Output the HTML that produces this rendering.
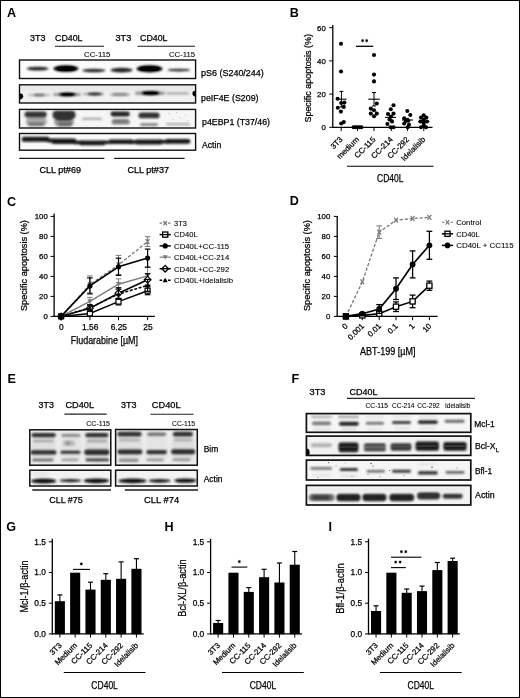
<!DOCTYPE html>
<html><head><meta charset="utf-8"><title>Figure</title>
<style>
html,body{margin:0;padding:0;background:#fff;}
body{width:520px;height:698px;overflow:hidden;}
svg{display:block;opacity:0.999;}
text{font-family:"Liberation Sans",sans-serif;stroke:#000;stroke-width:0.25px;}
</style></head><body>
<svg width="520" height="698" viewBox="0 0 520 698">
<defs>
<filter id="b3" x="-20%" y="-50%" width="140%" height="200%"><feGaussianBlur stdDeviation="0.35"/></filter>
<filter id="b5" x="-20%" y="-80%" width="140%" height="260%"><feGaussianBlur stdDeviation="0.8"/></filter>
<filter id="b8" x="-20%" y="-80%" width="140%" height="260%"><feGaussianBlur stdDeviation="0.9"/></filter>
<filter id="b12" x="-30%" y="-100%" width="160%" height="300%"><feGaussianBlur stdDeviation="1.4"/></filter>
</defs>
<rect x="0" y="0" width="520" height="698" fill="#fff"/>

<text x="6.90" y="17.10" font-size="12.6" font-weight="bold" style="stroke:none">A</text>
<text x="289.80" y="17.10" font-size="12.6" font-weight="bold" style="stroke:none">B</text>
<text x="7.00" y="205.50" font-size="12.6" font-weight="bold" style="stroke:none">C</text>
<text x="289.80" y="205.40" font-size="12.6" font-weight="bold" style="stroke:none">D</text>
<text x="7.40" y="383.00" font-size="12.6" font-weight="bold" style="stroke:none">E</text>
<text x="291.40" y="382.90" font-size="12.6" font-weight="bold" style="stroke:none">F</text>
<text x="6.20" y="531.00" font-size="12.6" font-weight="bold" style="stroke:none">G</text>
<text x="164.60" y="530.80" font-size="12.6" font-weight="bold" style="stroke:none">H</text>
<text x="328.40" y="530.90" font-size="12.6" font-weight="bold" style="stroke:none">I</text>
<g id="panelA">
<text x="30.00" y="41.00" font-size="8.8" textLength="15.50" lengthAdjust="spacingAndGlyphs">3T3</text>
<text x="115.50" y="41.00" font-size="8.8" textLength="15.80" lengthAdjust="spacingAndGlyphs">3T3</text>
<text x="55.00" y="41.00" font-size="8.8" textLength="27.50" lengthAdjust="spacingAndGlyphs">CD40L</text>
<text x="140.00" y="41.00" font-size="8.8" textLength="27.50" lengthAdjust="spacingAndGlyphs">CD40L</text>
<line x1="55.00" y1="46.30" x2="104.00" y2="46.30" stroke="#1a1a1a" stroke-width="1.1"/>
<line x1="137.50" y1="46.30" x2="195.00" y2="46.30" stroke="#1a1a1a" stroke-width="1.1"/>
<text x="84.00" y="57.30" font-size="7.4" textLength="26.50" lengthAdjust="spacingAndGlyphs" style="stroke-width:0.08px">CC-115</text>
<text x="169.00" y="57.30" font-size="7.4" textLength="26.00" lengthAdjust="spacingAndGlyphs" style="stroke-width:0.08px">CC-115</text>
<clipPath id="c1"><rect x="19.50" y="60.00" width="176.10" height="18.50"/></clipPath>
<rect x="19.50" y="60.00" width="176.10" height="18.50" fill="#fbfbfb" stroke="none" stroke-width="1"/>
<g clip-path="url(#c1)">
<ellipse cx="37.60" cy="68.60" rx="11.10" ry="1.95" fill="#222222" filter="url(#b5)"/>
<ellipse cx="65.95" cy="68.60" rx="12.55" ry="3.41" fill="#040404" filter="url(#b5)"/>
<rect x="57.00" y="66.40" width="18.00" height="4.40" rx="2.20" fill="#000" filter="url(#b3)"/>
<ellipse cx="93.85" cy="70.50" rx="11.55" ry="1.78" fill="#262626" filter="url(#b5)"/>
<ellipse cx="121.60" cy="70.10" rx="11.10" ry="2.30" fill="#202020" filter="url(#b5)"/>
<ellipse cx="149.50" cy="68.80" rx="13.00" ry="3.60" fill="#050505" filter="url(#b5)"/>
<rect x="140.00" y="66.60" width="19.00" height="4.40" rx="2.20" fill="#000" filter="url(#b3)"/>
<ellipse cx="178.85" cy="70.10" rx="11.55" ry="1.44" fill="#2d2d2d" filter="url(#b5)"/>
</g>
<rect x="19.50" y="60.00" width="176.10" height="18.50" fill="none" stroke="#111" stroke-width="1.4"/>
<clipPath id="c2"><rect x="19.50" y="84.80" width="176.10" height="18.20"/></clipPath>
<rect x="19.50" y="84.80" width="176.10" height="18.20" fill="#f1f1f1" stroke="none" stroke-width="1"/>
<g clip-path="url(#c2)">
<rect x="20.00" y="86.00" width="175.00" height="5.00" rx="2.50" fill="#e8e8e8" filter="url(#b12)"/>
<ellipse cx="19.35" cy="96.30" rx="3.85" ry="3.10" fill="#000" filter="url(#b3)"/>
<rect x="28.00" y="93.95" width="22.00" height="2.10" rx="1.05" fill="#afafaf" filter="url(#b5)"/>
<rect x="34.00" y="93.75" width="10.50" height="2.50" rx="1.25" fill="#757575" filter="url(#b5)"/>
<rect x="53.00" y="93.08" width="28.00" height="3.04" rx="1.52" fill="#979797" filter="url(#b8)"/>
<ellipse cx="67.40" cy="94.45" rx="8.40" ry="1.91" fill="#000000" filter="url(#b5)"/>
<rect x="62.00" y="93.70" width="11.00" height="1.50" rx="0.75" fill="#000" filter="url(#b3)"/>
<rect x="83.00" y="92.65" width="21.00" height="2.70" rx="1.35" fill="#aaaaaa" filter="url(#b8)"/>
<ellipse cx="94.65" cy="94.00" rx="7.15" ry="1.44" fill="#2a2a2a" filter="url(#b5)"/>
<rect x="110.00" y="93.25" width="20.00" height="2.40" rx="1.20" fill="#aeaeae" filter="url(#b5)"/>
<rect x="113.00" y="93.35" width="14.00" height="2.20" rx="1.10" fill="#848484" filter="url(#b5)"/>
<rect x="135.00" y="91.51" width="30.00" height="3.39" rx="1.69" fill="#999999" filter="url(#b8)"/>
<ellipse cx="150.55" cy="93.10" rx="9.25" ry="2.12" fill="#000000" filter="url(#b5)"/>
<rect x="144.00" y="92.20" width="13.00" height="1.80" rx="0.90" fill="#000" filter="url(#b3)"/>
<rect x="166.00" y="92.25" width="23.00" height="2.30" rx="1.15" fill="#a6a6a6" filter="url(#b8)"/>
<ellipse cx="195.45" cy="93.60" rx="3.05" ry="2.80" fill="#000" filter="url(#b3)"/>
</g>
<rect x="19.50" y="84.80" width="176.10" height="18.20" fill="none" stroke="#111" stroke-width="1.4"/>
<clipPath id="c3"><rect x="19.50" y="109.40" width="176.10" height="18.60"/></clipPath>
<rect x="19.50" y="109.40" width="176.10" height="18.60" fill="#f6f6f6" stroke="none" stroke-width="1"/>
<g clip-path="url(#c3)">
<rect x="26.00" y="117.00" width="21.00" height="9.00" rx="4.50" fill="#aaa" filter="url(#b8)"/>
<rect x="24.60" y="111.60" width="22.10" height="5.80" rx="2.90" fill="#323232" filter="url(#b5)"/>
<rect x="28.00" y="122.22" width="16.00" height="3.56" rx="1.78" fill="#777777" filter="url(#b8)"/>
<rect x="54.00" y="117.00" width="20.00" height="9.50" rx="4.75" fill="#999" filter="url(#b8)"/>
<rect x="52.50" y="110.80" width="23.10" height="8.20" rx="4.10" fill="#333" filter="url(#b5)"/>
<rect x="56.00" y="113.00" width="16.00" height="7.50" rx="3.75" fill="#333" filter="url(#b5)"/>
<rect x="58.00" y="122.22" width="14.00" height="3.56" rx="1.78" fill="#686868" filter="url(#b8)"/>
<rect x="82.00" y="117.65" width="20.00" height="2.10" rx="1.05" fill="#9e9e9e" filter="url(#b5)"/>
<rect x="110.60" y="111.53" width="19.20" height="4.94" rx="2.47" fill="#202020" filter="url(#b5)"/>
<rect x="111.50" y="119.45" width="18.50" height="5.11" rx="2.55" fill="#8f8f8f" filter="url(#b8)"/>
<rect x="113.00" y="119.86" width="15.00" height="2.87" rx="1.44" fill="#767676" filter="url(#b5)"/>
<rect x="138.50" y="112.50" width="21.10" height="5.80" rx="2.90" fill="#323232" filter="url(#b5)"/>
<rect x="140.00" y="123.25" width="18.00" height="2.70" rx="1.35" fill="#828282" filter="url(#b5)"/>
<rect x="166.00" y="123.05" width="24.00" height="2.10" rx="1.05" fill="#adadad" filter="url(#b5)"/>
</g>
<rect x="19.50" y="109.40" width="176.10" height="18.60" fill="none" stroke="#111" stroke-width="1.4"/>
<circle cx="169.00" cy="113.20" r="0.5" fill="#aaa" stroke="none" stroke-width="1"/>
<circle cx="176.50" cy="112.60" r="0.5" fill="#aaa" stroke="none" stroke-width="1"/>
<circle cx="180.00" cy="117.60" r="0.5" fill="#aaa" stroke="none" stroke-width="1"/>
<circle cx="185.50" cy="115.00" r="0.5" fill="#aaa" stroke="none" stroke-width="1"/>
<circle cx="173.00" cy="119.40" r="0.5" fill="#aaa" stroke="none" stroke-width="1"/>
<circle cx="188.00" cy="120.60" r="0.5" fill="#aaa" stroke="none" stroke-width="1"/>
<clipPath id="c4"><rect x="19.50" y="133.50" width="176.10" height="16.70"/></clipPath>
<rect x="19.50" y="133.50" width="176.10" height="16.70" fill="#fafafa" stroke="none" stroke-width="1"/>
<g clip-path="url(#c4)">
<rect x="21.70" y="136.65" width="27.90" height="5.11" rx="2.55" fill="#161616" filter="url(#b5)"/>
<rect x="51.50" y="138.47" width="25.00" height="5.45" rx="2.73" fill="#171717" filter="url(#b5)"/>
<rect x="47.00" y="138.72" width="7.00" height="3.56" rx="1.78" fill="#111111" filter="url(#b5)"/>
<rect x="79.40" y="140.43" width="26.00" height="4.94" rx="2.47" fill="#151515" filter="url(#b5)"/>
<rect x="74.00" y="140.72" width="8.00" height="3.56" rx="1.78" fill="#151515" filter="url(#b5)"/>
<rect x="108.30" y="139.40" width="24.40" height="4.59" rx="2.30" fill="#141414" filter="url(#b5)"/>
<rect x="103.00" y="140.69" width="7.00" height="3.22" rx="1.61" fill="#141414" filter="url(#b5)"/>
<rect x="135.60" y="139.62" width="26.90" height="4.76" rx="2.38" fill="#151515" filter="url(#b5)"/>
<rect x="130.00" y="140.31" width="8.00" height="3.39" rx="1.69" fill="#151515" filter="url(#b5)"/>
<rect x="165.40" y="139.02" width="25.00" height="4.76" rx="2.38" fill="#151515" filter="url(#b5)"/>
<rect x="160.00" y="140.11" width="8.00" height="3.39" rx="1.69" fill="#151515" filter="url(#b5)"/>
</g>
<rect x="19.50" y="133.50" width="176.10" height="16.70" fill="none" stroke="#111" stroke-width="1.4"/>
<text x="201.00" y="75.80" font-size="8.8" textLength="62.80" lengthAdjust="spacingAndGlyphs">pS6 (S240/244)</text>
<text x="201.00" y="100.80" font-size="8.8" textLength="57.50" lengthAdjust="spacingAndGlyphs">peIF4E (S209)</text>
<text x="202.00" y="124.70" font-size="8.8" textLength="68.00" lengthAdjust="spacingAndGlyphs">p4EBP1 (T37/46)</text>
<text x="202.00" y="147.80" font-size="8.8" textLength="19.20" lengthAdjust="spacingAndGlyphs">Actin</text>
<line x1="19.20" y1="158.40" x2="104.30" y2="158.40" stroke="#1a1a1a" stroke-width="1.2"/>
<line x1="114.20" y1="158.40" x2="184.60" y2="158.40" stroke="#1a1a1a" stroke-width="1.2"/>
<text x="39.50" y="172.50" font-size="9" textLength="41.50" lengthAdjust="spacingAndGlyphs">CLL pt#69</text>
<text x="127.50" y="172.50" font-size="9" textLength="41.50" lengthAdjust="spacingAndGlyphs">CLL pt#37</text>
</g>
<g id="panelB">
<line x1="332.80" y1="25.00" x2="332.80" y2="127.90" stroke="#000" stroke-width="1.3"/>
<line x1="332.20" y1="127.30" x2="432.50" y2="127.30" stroke="#000" stroke-width="1.3"/>
<line x1="329.20" y1="127.30" x2="332.80" y2="127.30" stroke="#000" stroke-width="1.0"/>
<text x="325.80" y="130.10" font-size="7.8" text-anchor="end">0</text>
<line x1="329.20" y1="94.10" x2="332.80" y2="94.10" stroke="#000" stroke-width="1.0"/>
<text x="325.80" y="96.90" font-size="7.8" text-anchor="end">20</text>
<line x1="329.20" y1="60.90" x2="332.80" y2="60.90" stroke="#000" stroke-width="1.0"/>
<text x="325.80" y="63.70" font-size="7.8" text-anchor="end">40</text>
<line x1="329.20" y1="27.70" x2="332.80" y2="27.70" stroke="#000" stroke-width="1.0"/>
<text x="325.80" y="30.50" font-size="7.8" text-anchor="end">60</text>
<text x="310.90" y="78.30" font-size="8.6" text-anchor="middle" textLength="88.50" lengthAdjust="spacingAndGlyphs" transform="rotate(-90 310.90 78.30)">Specific apoptosis (%)</text>
<line x1="341.20" y1="127.30" x2="341.20" y2="131.10" stroke="#000" stroke-width="1.0"/>
<text x="343.20" y="140.00" font-size="7.8" text-anchor="end" transform="rotate(-45 343.20 140.00)">3T3</text>
<line x1="357.50" y1="127.30" x2="357.50" y2="131.10" stroke="#000" stroke-width="1.0"/>
<text x="359.50" y="140.00" font-size="7.8" text-anchor="end" transform="rotate(-45 359.50 140.00)">medium</text>
<line x1="374.00" y1="127.30" x2="374.00" y2="131.10" stroke="#000" stroke-width="1.0"/>
<text x="376.00" y="140.00" font-size="7.8" text-anchor="end" transform="rotate(-45 376.00 140.00)">CC-115</text>
<line x1="391.30" y1="127.30" x2="391.30" y2="131.10" stroke="#000" stroke-width="1.0"/>
<text x="393.30" y="140.00" font-size="7.8" text-anchor="end" transform="rotate(-45 393.30 140.00)">CC-214</text>
<line x1="407.60" y1="127.30" x2="407.60" y2="131.10" stroke="#000" stroke-width="1.0"/>
<text x="409.60" y="140.00" font-size="7.8" text-anchor="end" transform="rotate(-45 409.60 140.00)">CC-292</text>
<line x1="423.80" y1="127.30" x2="423.80" y2="131.10" stroke="#000" stroke-width="1.0"/>
<text x="425.80" y="140.00" font-size="7.8" text-anchor="end" transform="rotate(-45 425.80 140.00)">Idelalisib</text>
<circle cx="341.00" cy="43.80" r="2.05" fill="#000" stroke="none" stroke-width="1"/>
<circle cx="341.00" cy="71.50" r="2.05" fill="#000" stroke="none" stroke-width="1"/>
<circle cx="337.60" cy="98.80" r="2.05" fill="#000" stroke="none" stroke-width="1"/>
<circle cx="341.20" cy="103.00" r="2.05" fill="#000" stroke="none" stroke-width="1"/>
<circle cx="344.40" cy="102.60" r="2.05" fill="#000" stroke="none" stroke-width="1"/>
<circle cx="343.80" cy="106.90" r="2.05" fill="#000" stroke="none" stroke-width="1"/>
<circle cx="337.80" cy="107.70" r="2.05" fill="#000" stroke="none" stroke-width="1"/>
<circle cx="340.90" cy="111.60" r="2.05" fill="#000" stroke="none" stroke-width="1"/>
<circle cx="343.80" cy="122.10" r="2.05" fill="#000" stroke="none" stroke-width="1"/>
<circle cx="341.20" cy="123.50" r="2.05" fill="#000" stroke="none" stroke-width="1"/>
<circle cx="353.60" cy="127.30" r="2.05" fill="#000" stroke="none" stroke-width="1"/>
<circle cx="355.60" cy="127.30" r="2.05" fill="#000" stroke="none" stroke-width="1"/>
<circle cx="357.60" cy="127.30" r="2.05" fill="#000" stroke="none" stroke-width="1"/>
<circle cx="359.60" cy="127.30" r="2.05" fill="#000" stroke="none" stroke-width="1"/>
<circle cx="361.40" cy="127.30" r="2.05" fill="#000" stroke="none" stroke-width="1"/>
<circle cx="374.00" cy="55.00" r="2.05" fill="#000" stroke="none" stroke-width="1"/>
<circle cx="374.00" cy="74.60" r="2.05" fill="#000" stroke="none" stroke-width="1"/>
<circle cx="374.00" cy="81.40" r="2.05" fill="#000" stroke="none" stroke-width="1"/>
<circle cx="376.80" cy="103.50" r="2.05" fill="#000" stroke="none" stroke-width="1"/>
<circle cx="370.80" cy="108.60" r="2.05" fill="#000" stroke="none" stroke-width="1"/>
<circle cx="374.00" cy="110.30" r="2.05" fill="#000" stroke="none" stroke-width="1"/>
<circle cx="376.80" cy="113.60" r="2.05" fill="#000" stroke="none" stroke-width="1"/>
<circle cx="370.80" cy="113.60" r="2.05" fill="#000" stroke="none" stroke-width="1"/>
<circle cx="374.00" cy="116.20" r="2.05" fill="#000" stroke="none" stroke-width="1"/>
<circle cx="393.50" cy="105.30" r="2.05" fill="#000" stroke="none" stroke-width="1"/>
<circle cx="390.80" cy="109.30" r="2.05" fill="#000" stroke="none" stroke-width="1"/>
<circle cx="388.00" cy="114.00" r="2.05" fill="#000" stroke="none" stroke-width="1"/>
<circle cx="393.50" cy="113.60" r="2.05" fill="#000" stroke="none" stroke-width="1"/>
<circle cx="391.00" cy="116.50" r="2.05" fill="#000" stroke="none" stroke-width="1"/>
<circle cx="392.00" cy="121.40" r="2.05" fill="#000" stroke="none" stroke-width="1"/>
<circle cx="387.40" cy="124.00" r="2.05" fill="#000" stroke="none" stroke-width="1"/>
<circle cx="390.60" cy="127.30" r="2.05" fill="#000" stroke="none" stroke-width="1"/>
<circle cx="393.60" cy="127.30" r="2.05" fill="#000" stroke="none" stroke-width="1"/>
<circle cx="389.50" cy="119.50" r="2.05" fill="#000" stroke="none" stroke-width="1"/>
<circle cx="407.30" cy="111.00" r="2.05" fill="#000" stroke="none" stroke-width="1"/>
<circle cx="410.30" cy="115.00" r="2.05" fill="#000" stroke="none" stroke-width="1"/>
<circle cx="404.20" cy="118.30" r="2.05" fill="#000" stroke="none" stroke-width="1"/>
<circle cx="408.30" cy="120.80" r="2.05" fill="#000" stroke="none" stroke-width="1"/>
<circle cx="404.20" cy="123.50" r="2.05" fill="#000" stroke="none" stroke-width="1"/>
<circle cx="409.00" cy="124.80" r="2.05" fill="#000" stroke="none" stroke-width="1"/>
<circle cx="407.60" cy="127.30" r="2.05" fill="#000" stroke="none" stroke-width="1"/>
<circle cx="405.80" cy="121.00" r="2.05" fill="#000" stroke="none" stroke-width="1"/>
<circle cx="423.70" cy="115.30" r="2.05" fill="#000" stroke="none" stroke-width="1"/>
<circle cx="421.00" cy="117.50" r="2.05" fill="#000" stroke="none" stroke-width="1"/>
<circle cx="426.30" cy="117.50" r="2.05" fill="#000" stroke="none" stroke-width="1"/>
<circle cx="423.70" cy="119.50" r="2.05" fill="#000" stroke="none" stroke-width="1"/>
<circle cx="420.50" cy="121.50" r="2.05" fill="#000" stroke="none" stroke-width="1"/>
<circle cx="427.00" cy="121.50" r="2.05" fill="#000" stroke="none" stroke-width="1"/>
<circle cx="423.70" cy="123.00" r="2.05" fill="#000" stroke="none" stroke-width="1"/>
<circle cx="421.00" cy="127.30" r="2.05" fill="#000" stroke="none" stroke-width="1"/>
<circle cx="426.00" cy="127.30" r="2.05" fill="#000" stroke="none" stroke-width="1"/>
<circle cx="423.70" cy="125.50" r="2.05" fill="#000" stroke="none" stroke-width="1"/>
<line x1="336.30" y1="99.20" x2="346.50" y2="99.20" stroke="#000" stroke-width="1.1"/>
<line x1="341.40" y1="91.40" x2="341.40" y2="107.00" stroke="#000" stroke-width="1.0"/>
<line x1="339.40" y1="91.40" x2="343.40" y2="91.40" stroke="#000" stroke-width="1.0"/>
<line x1="339.40" y1="107.00" x2="343.40" y2="107.00" stroke="#000" stroke-width="1.0"/>
<line x1="368.20" y1="99.20" x2="379.80" y2="99.20" stroke="#000" stroke-width="1.1"/>
<line x1="374.00" y1="92.50" x2="374.00" y2="106.00" stroke="#000" stroke-width="1.0"/>
<line x1="372.00" y1="92.50" x2="376.00" y2="92.50" stroke="#000" stroke-width="1.0"/>
<line x1="372.00" y1="106.00" x2="376.00" y2="106.00" stroke="#000" stroke-width="1.0"/>
<line x1="385.00" y1="117.40" x2="396.00" y2="117.40" stroke="#000" stroke-width="1.1"/>
<line x1="390.50" y1="115.50" x2="390.50" y2="119.30" stroke="#000" stroke-width="1.0"/>
<line x1="388.90" y1="115.50" x2="392.10" y2="115.50" stroke="#000" stroke-width="1.0"/>
<line x1="388.90" y1="119.30" x2="392.10" y2="119.30" stroke="#000" stroke-width="1.0"/>
<line x1="402.00" y1="120.00" x2="413.00" y2="120.00" stroke="#000" stroke-width="1.1"/>
<line x1="407.50" y1="118.40" x2="407.50" y2="121.60" stroke="#000" stroke-width="1.0"/>
<line x1="405.90" y1="118.40" x2="409.10" y2="118.40" stroke="#000" stroke-width="1.0"/>
<line x1="405.90" y1="121.60" x2="409.10" y2="121.60" stroke="#000" stroke-width="1.0"/>
<line x1="418.10" y1="121.50" x2="429.50" y2="121.50" stroke="#000" stroke-width="1.1"/>
<line x1="423.80" y1="120.20" x2="423.80" y2="122.80" stroke="#000" stroke-width="1.0"/>
<line x1="422.20" y1="120.20" x2="425.40" y2="120.20" stroke="#000" stroke-width="1.0"/>
<line x1="422.20" y1="122.80" x2="425.40" y2="122.80" stroke="#000" stroke-width="1.0"/>
<line x1="356.00" y1="46.30" x2="373.20" y2="46.30" stroke="#000" stroke-width="1.3"/>
<circle cx="362.60" cy="40.70" r="1.15" fill="#000" stroke="none" stroke-width="1"/>
<line x1="362.60" y1="39.00" x2="362.60" y2="42.40" stroke="#000" stroke-width="0.5"/>
<line x1="364.07" y1="41.55" x2="361.13" y2="39.85" stroke="#000" stroke-width="0.5"/>
<line x1="361.13" y1="41.55" x2="364.07" y2="39.85" stroke="#000" stroke-width="0.5"/>
<circle cx="366.70" cy="40.70" r="1.15" fill="#000" stroke="none" stroke-width="1"/>
<line x1="366.70" y1="39.00" x2="366.70" y2="42.40" stroke="#000" stroke-width="0.5"/>
<line x1="368.17" y1="41.55" x2="365.23" y2="39.85" stroke="#000" stroke-width="0.5"/>
<line x1="365.23" y1="41.55" x2="368.17" y2="39.85" stroke="#000" stroke-width="0.5"/>
<line x1="347.00" y1="166.30" x2="433.50" y2="166.30" stroke="#000" stroke-width="1.1"/>
<text x="390.30" y="182.40" font-size="10.8" text-anchor="middle" textLength="26.50" lengthAdjust="spacingAndGlyphs">CD40L</text>
</g>
<g id="panelC">
<line x1="54.10" y1="213.40" x2="54.10" y2="317.00" stroke="#000" stroke-width="1.3"/>
<line x1="53.50" y1="316.40" x2="154.80" y2="316.40" stroke="#000" stroke-width="1.3"/>
<line x1="50.50" y1="316.40" x2="54.10" y2="316.40" stroke="#000" stroke-width="1.0"/>
<text x="47.80" y="319.20" font-size="7.8" text-anchor="end">0</text>
<line x1="50.50" y1="296.40" x2="54.10" y2="296.40" stroke="#000" stroke-width="1.0"/>
<text x="47.80" y="299.20" font-size="7.8" text-anchor="end">20</text>
<line x1="50.50" y1="276.40" x2="54.10" y2="276.40" stroke="#000" stroke-width="1.0"/>
<text x="47.80" y="279.20" font-size="7.8" text-anchor="end">40</text>
<line x1="50.50" y1="256.40" x2="54.10" y2="256.40" stroke="#000" stroke-width="1.0"/>
<text x="47.80" y="259.20" font-size="7.8" text-anchor="end">60</text>
<line x1="50.50" y1="236.40" x2="54.10" y2="236.40" stroke="#000" stroke-width="1.0"/>
<text x="47.80" y="239.20" font-size="7.8" text-anchor="end">80</text>
<line x1="50.50" y1="216.40" x2="54.10" y2="216.40" stroke="#000" stroke-width="1.0"/>
<text x="47.80" y="219.20" font-size="7.8" text-anchor="end">100</text>
<text x="27.10" y="265.60" font-size="8.8" text-anchor="middle" textLength="91.00" lengthAdjust="spacingAndGlyphs" transform="rotate(-90 27.10 265.60)">Specific apoptosis (%)</text>
<line x1="61.10" y1="316.40" x2="61.10" y2="320.20" stroke="#000" stroke-width="1.0"/>
<text x="61.40" y="330.00" font-size="8.4" text-anchor="middle">0</text>
<line x1="89.90" y1="316.40" x2="89.90" y2="320.20" stroke="#000" stroke-width="1.0"/>
<text x="90.20" y="330.00" font-size="8.4" text-anchor="middle">1.56</text>
<line x1="118.50" y1="316.40" x2="118.50" y2="320.20" stroke="#000" stroke-width="1.0"/>
<text x="118.80" y="330.00" font-size="8.4" text-anchor="middle">6.25</text>
<line x1="147.60" y1="316.40" x2="147.60" y2="320.20" stroke="#000" stroke-width="1.0"/>
<text x="147.90" y="330.00" font-size="8.4" text-anchor="middle">25</text>
<text x="104.40" y="344.00" font-size="10.3" text-anchor="middle" textLength="67.30" lengthAdjust="spacingAndGlyphs">Fludarabine [µM]</text>
<polyline points="61.10,316.40 89.90,284.40 118.50,264.90 147.60,241.60" fill="none" stroke="#787878" stroke-width="1.2" stroke-dasharray="3.2,1.8"/>
<line x1="89.90" y1="275.90" x2="89.90" y2="292.90" stroke="#787878" stroke-width="1.0"/>
<line x1="87.10" y1="275.90" x2="92.70" y2="275.90" stroke="#787878" stroke-width="1.0"/>
<line x1="87.10" y1="292.90" x2="92.70" y2="292.90" stroke="#787878" stroke-width="1.0"/>
<line x1="118.50" y1="255.40" x2="118.50" y2="274.40" stroke="#787878" stroke-width="1.0"/>
<line x1="115.70" y1="255.40" x2="121.30" y2="255.40" stroke="#787878" stroke-width="1.0"/>
<line x1="115.70" y1="274.40" x2="121.30" y2="274.40" stroke="#787878" stroke-width="1.0"/>
<line x1="147.60" y1="236.70" x2="147.60" y2="246.50" stroke="#787878" stroke-width="1.0"/>
<line x1="144.80" y1="236.70" x2="150.40" y2="236.70" stroke="#787878" stroke-width="1.0"/>
<line x1="144.80" y1="246.50" x2="150.40" y2="246.50" stroke="#787878" stroke-width="1.0"/>
<line x1="59.18" y1="313.88" x2="63.02" y2="318.92" stroke="#787878" stroke-width="1.2"/>
<line x1="59.18" y1="318.92" x2="63.02" y2="313.88" stroke="#787878" stroke-width="1.2"/>
<line x1="87.98" y1="281.88" x2="91.82" y2="286.92" stroke="#787878" stroke-width="1.2"/>
<line x1="87.98" y1="286.92" x2="91.82" y2="281.88" stroke="#787878" stroke-width="1.2"/>
<line x1="116.58" y1="262.38" x2="120.42" y2="267.42" stroke="#787878" stroke-width="1.2"/>
<line x1="116.58" y1="267.42" x2="120.42" y2="262.38" stroke="#787878" stroke-width="1.2"/>
<line x1="145.68" y1="239.08" x2="149.52" y2="244.12" stroke="#787878" stroke-width="1.2"/>
<line x1="145.68" y1="244.12" x2="149.52" y2="239.08" stroke="#787878" stroke-width="1.2"/>
<polyline points="61.10,316.40 89.90,301.40 118.50,284.20 147.60,275.90" fill="none" stroke="#7d7d7d" stroke-width="1.5"/>
<line x1="89.90" y1="297.40" x2="89.90" y2="305.40" stroke="#7d7d7d" stroke-width="1.0"/>
<line x1="87.10" y1="297.40" x2="92.70" y2="297.40" stroke="#7d7d7d" stroke-width="1.0"/>
<line x1="87.10" y1="305.40" x2="92.70" y2="305.40" stroke="#7d7d7d" stroke-width="1.0"/>
<line x1="118.50" y1="278.90" x2="118.50" y2="289.50" stroke="#7d7d7d" stroke-width="1.0"/>
<line x1="115.70" y1="278.90" x2="121.30" y2="278.90" stroke="#7d7d7d" stroke-width="1.0"/>
<line x1="115.70" y1="289.50" x2="121.30" y2="289.50" stroke="#7d7d7d" stroke-width="1.0"/>
<line x1="147.60" y1="267.40" x2="147.60" y2="284.40" stroke="#7d7d7d" stroke-width="1.0"/>
<line x1="144.80" y1="267.40" x2="150.40" y2="267.40" stroke="#7d7d7d" stroke-width="1.0"/>
<line x1="144.80" y1="284.40" x2="150.40" y2="284.40" stroke="#7d7d7d" stroke-width="1.0"/>
<polygon points="58.50,314.32 63.70,314.32 61.10,319.00" fill="#7d7d7d"/>
<polygon points="87.30,299.32 92.50,299.32 89.90,304.00" fill="#7d7d7d"/>
<polygon points="115.90,282.12 121.10,282.12 118.50,286.80" fill="#7d7d7d"/>
<polygon points="145.00,273.82 150.20,273.82 147.60,278.50" fill="#7d7d7d"/>
<polyline points="61.10,316.40 89.90,313.40 118.50,301.60 147.60,290.70" fill="none" stroke="#000" stroke-width="1.5"/>
<line x1="89.90" y1="311.40" x2="89.90" y2="315.40" stroke="#000" stroke-width="1.2"/>
<line x1="87.10" y1="311.40" x2="92.70" y2="311.40" stroke="#000" stroke-width="1.2"/>
<line x1="87.10" y1="315.40" x2="92.70" y2="315.40" stroke="#000" stroke-width="1.2"/>
<line x1="118.50" y1="298.30" x2="118.50" y2="304.90" stroke="#000" stroke-width="1.2"/>
<line x1="115.70" y1="298.30" x2="121.30" y2="298.30" stroke="#000" stroke-width="1.2"/>
<line x1="115.70" y1="304.90" x2="121.30" y2="304.90" stroke="#000" stroke-width="1.2"/>
<line x1="147.60" y1="286.70" x2="147.60" y2="294.70" stroke="#000" stroke-width="1.2"/>
<line x1="144.80" y1="286.70" x2="150.40" y2="286.70" stroke="#000" stroke-width="1.2"/>
<line x1="144.80" y1="294.70" x2="150.40" y2="294.70" stroke="#000" stroke-width="1.2"/>
<rect x="58.60" y="313.90" width="5.00" height="5.00" fill="#fff" stroke="#000" stroke-width="1.2"/>
<rect x="87.40" y="310.90" width="5.00" height="5.00" fill="#fff" stroke="#000" stroke-width="1.2"/>
<rect x="116.00" y="299.10" width="5.00" height="5.00" fill="#fff" stroke="#000" stroke-width="1.2"/>
<rect x="145.10" y="288.20" width="5.00" height="5.00" fill="#fff" stroke="#000" stroke-width="1.2"/>
<polyline points="61.10,316.40 89.90,308.20 118.50,293.20 147.60,279.70" fill="none" stroke="#000" stroke-width="1.5"/>
<line x1="89.90" y1="305.20" x2="89.90" y2="311.20" stroke="#000" stroke-width="1.2"/>
<line x1="87.10" y1="305.20" x2="92.70" y2="305.20" stroke="#000" stroke-width="1.2"/>
<line x1="87.10" y1="311.20" x2="92.70" y2="311.20" stroke="#000" stroke-width="1.2"/>
<line x1="118.50" y1="287.70" x2="118.50" y2="298.70" stroke="#000" stroke-width="1.2"/>
<line x1="115.70" y1="287.70" x2="121.30" y2="287.70" stroke="#000" stroke-width="1.2"/>
<line x1="115.70" y1="298.70" x2="121.30" y2="298.70" stroke="#000" stroke-width="1.2"/>
<line x1="147.60" y1="273.70" x2="147.60" y2="285.70" stroke="#000" stroke-width="1.2"/>
<line x1="144.80" y1="273.70" x2="150.40" y2="273.70" stroke="#000" stroke-width="1.2"/>
<line x1="144.80" y1="285.70" x2="150.40" y2="285.70" stroke="#000" stroke-width="1.2"/>
<polygon points="57.70,316.40 61.10,313.00 64.50,316.40 61.10,319.80" fill="#fff" stroke="#000" stroke-width="1.2"/>
<polygon points="86.50,308.20 89.90,304.80 93.30,308.20 89.90,311.60" fill="#fff" stroke="#000" stroke-width="1.2"/>
<polygon points="115.10,293.20 118.50,289.80 121.90,293.20 118.50,296.60" fill="#fff" stroke="#000" stroke-width="1.2"/>
<polygon points="144.20,279.70 147.60,276.30 151.00,279.70 147.60,283.10" fill="#fff" stroke="#000" stroke-width="1.2"/>
<polyline points="61.10,316.40 89.90,307.80 118.50,294.00 147.60,285.40" fill="none" stroke="#000" stroke-width="1.5" stroke-dasharray="3,1.6"/>
<line x1="89.90" y1="304.80" x2="89.90" y2="310.80" stroke="#000" stroke-width="1.2"/>
<line x1="87.10" y1="304.80" x2="92.70" y2="304.80" stroke="#000" stroke-width="1.2"/>
<line x1="87.10" y1="310.80" x2="92.70" y2="310.80" stroke="#000" stroke-width="1.2"/>
<line x1="118.50" y1="289.00" x2="118.50" y2="299.00" stroke="#000" stroke-width="1.2"/>
<line x1="115.70" y1="289.00" x2="121.30" y2="289.00" stroke="#000" stroke-width="1.2"/>
<line x1="115.70" y1="299.00" x2="121.30" y2="299.00" stroke="#000" stroke-width="1.2"/>
<line x1="147.60" y1="279.40" x2="147.60" y2="291.40" stroke="#000" stroke-width="1.2"/>
<line x1="144.80" y1="279.40" x2="150.40" y2="279.40" stroke="#000" stroke-width="1.2"/>
<line x1="144.80" y1="291.40" x2="150.40" y2="291.40" stroke="#000" stroke-width="1.2"/>
<polygon points="58.80,318.24 63.40,318.24 61.10,314.10" fill="#000"/>
<polygon points="87.60,309.64 92.20,309.64 89.90,305.50" fill="#000"/>
<polygon points="116.20,295.84 120.80,295.84 118.50,291.70" fill="#000"/>
<polygon points="145.30,287.24 149.90,287.24 147.60,283.10" fill="#000"/>
<polyline points="61.10,316.40 89.90,285.90 118.50,266.80 147.60,258.10" fill="none" stroke="#000" stroke-width="1.6"/>
<line x1="89.90" y1="277.90" x2="89.90" y2="293.90" stroke="#000" stroke-width="1.2"/>
<line x1="87.10" y1="277.90" x2="92.70" y2="277.90" stroke="#000" stroke-width="1.2"/>
<line x1="87.10" y1="293.90" x2="92.70" y2="293.90" stroke="#000" stroke-width="1.2"/>
<line x1="118.50" y1="258.20" x2="118.50" y2="275.40" stroke="#000" stroke-width="1.2"/>
<line x1="115.70" y1="258.20" x2="121.30" y2="258.20" stroke="#000" stroke-width="1.2"/>
<line x1="115.70" y1="275.40" x2="121.30" y2="275.40" stroke="#000" stroke-width="1.2"/>
<line x1="147.60" y1="249.10" x2="147.60" y2="267.10" stroke="#000" stroke-width="1.2"/>
<line x1="144.80" y1="249.10" x2="150.40" y2="249.10" stroke="#000" stroke-width="1.2"/>
<line x1="144.80" y1="267.10" x2="150.40" y2="267.10" stroke="#000" stroke-width="1.2"/>
<circle cx="61.10" cy="316.40" r="2.6" fill="#000" stroke="none" stroke-width="1"/>
<circle cx="89.90" cy="285.90" r="2.6" fill="#000" stroke="none" stroke-width="1"/>
<circle cx="118.50" cy="266.80" r="2.6" fill="#000" stroke="none" stroke-width="1"/>
<circle cx="147.60" cy="258.10" r="2.6" fill="#000" stroke="none" stroke-width="1"/>
<text x="174.00" y="225.90" font-size="7.7" textLength="12.80" lengthAdjust="spacingAndGlyphs" style="stroke-width:0.08px">3T3</text>
<text x="174.00" y="237.40" font-size="7.7" textLength="23.60" lengthAdjust="spacingAndGlyphs" style="stroke-width:0.08px">CD40L</text>
<text x="174.00" y="248.70" font-size="7.7" textLength="55.20" lengthAdjust="spacingAndGlyphs" style="stroke-width:0.08px">CD40L+CC-115</text>
<text x="174.00" y="260.00" font-size="7.7" textLength="55.20" lengthAdjust="spacingAndGlyphs" style="stroke-width:0.08px">CD40L+CC-214</text>
<text x="174.00" y="271.50" font-size="7.7" textLength="55.20" lengthAdjust="spacingAndGlyphs" style="stroke-width:0.08px">CD40L+CC-292</text>
<text x="174.00" y="283.00" font-size="7.7" textLength="59.00" lengthAdjust="spacingAndGlyphs" style="stroke-width:0.08px">CD40L+Idelalisib</text>
<line x1="159.60" y1="223.10" x2="170.80" y2="223.10" stroke="#787878" stroke-width="1.1" stroke-dasharray="2.6,1.6"/>
<line x1="163.44" y1="220.79" x2="166.96" y2="225.41" stroke="#787878" stroke-width="1.2"/>
<line x1="163.44" y1="225.41" x2="166.96" y2="220.79" stroke="#787878" stroke-width="1.2"/>
<line x1="159.60" y1="234.60" x2="170.80" y2="234.60" stroke="#000" stroke-width="1.5"/>
<rect x="162.60" y="232.00" width="5.20" height="5.20" fill="#fff" stroke="#000" stroke-width="1.3"/>
<line x1="162.60" y1="234.60" x2="167.80" y2="234.60" stroke="#000" stroke-width="1.3"/>
<line x1="159.60" y1="245.90" x2="170.80" y2="245.90" stroke="#000" stroke-width="1.5"/>
<circle cx="165.20" cy="245.90" r="2.6" fill="#000" stroke="none" stroke-width="1"/>
<line x1="159.60" y1="257.20" x2="170.80" y2="257.20" stroke="#7d7d7d" stroke-width="1.2"/>
<polygon points="162.70,255.20 167.70,255.20 165.20,259.70" fill="#7d7d7d"/>
<line x1="159.60" y1="268.70" x2="170.80" y2="268.70" stroke="#000" stroke-width="1.5"/>
<polygon points="161.90,268.70 165.20,265.40 168.50,268.70 165.20,272.00" fill="#fff" stroke="#000" stroke-width="1.3"/>
<line x1="161.90" y1="268.70" x2="168.50" y2="268.70" stroke="#000" stroke-width="1.3"/>
<line x1="159.60" y1="280.20" x2="170.80" y2="280.20" stroke="#000" stroke-width="1.5" stroke-dasharray="2.6,1.6"/>
<polygon points="162.70,282.20 167.70,282.20 165.20,277.70" fill="#000"/>
</g>
<g id="panelD">
<line x1="337.20" y1="215.90" x2="337.20" y2="317.00" stroke="#000" stroke-width="1.3"/>
<line x1="336.60" y1="316.40" x2="437.60" y2="316.40" stroke="#000" stroke-width="1.3"/>
<line x1="333.80" y1="316.40" x2="337.20" y2="316.40" stroke="#000" stroke-width="1.0"/>
<text x="330.30" y="319.20" font-size="7.8" text-anchor="end">0</text>
<line x1="333.80" y1="296.40" x2="337.20" y2="296.40" stroke="#000" stroke-width="1.0"/>
<text x="330.30" y="299.20" font-size="7.8" text-anchor="end">20</text>
<line x1="333.80" y1="276.40" x2="337.20" y2="276.40" stroke="#000" stroke-width="1.0"/>
<text x="330.30" y="279.20" font-size="7.8" text-anchor="end">40</text>
<line x1="333.80" y1="256.40" x2="337.20" y2="256.40" stroke="#000" stroke-width="1.0"/>
<text x="330.30" y="259.20" font-size="7.8" text-anchor="end">60</text>
<line x1="333.80" y1="236.40" x2="337.20" y2="236.40" stroke="#000" stroke-width="1.0"/>
<text x="330.30" y="239.20" font-size="7.8" text-anchor="end">80</text>
<line x1="333.80" y1="216.40" x2="337.20" y2="216.40" stroke="#000" stroke-width="1.0"/>
<text x="330.30" y="219.20" font-size="7.8" text-anchor="end">100</text>
<text x="310.40" y="265.60" font-size="8.8" text-anchor="middle" textLength="91.00" lengthAdjust="spacingAndGlyphs" transform="rotate(-90 310.40 265.60)">Specific apoptosis (%)</text>
<line x1="345.90" y1="316.40" x2="345.90" y2="320.20" stroke="#000" stroke-width="1.0"/>
<text x="348.30" y="326.60" font-size="7.8" text-anchor="end" transform="rotate(-45 348.30 326.60)">0</text>
<line x1="362.30" y1="316.40" x2="362.30" y2="320.20" stroke="#000" stroke-width="1.0"/>
<text x="364.70" y="326.60" font-size="7.8" text-anchor="end" transform="rotate(-45 364.70 326.60)">0.001</text>
<line x1="379.20" y1="316.40" x2="379.20" y2="320.20" stroke="#000" stroke-width="1.0"/>
<text x="381.60" y="326.60" font-size="7.8" text-anchor="end" transform="rotate(-45 381.60 326.60)">0.01</text>
<line x1="396.00" y1="316.40" x2="396.00" y2="320.20" stroke="#000" stroke-width="1.0"/>
<text x="398.40" y="326.60" font-size="7.8" text-anchor="end" transform="rotate(-45 398.40 326.60)">0.1</text>
<line x1="412.60" y1="316.40" x2="412.60" y2="320.20" stroke="#000" stroke-width="1.0"/>
<text x="415.00" y="326.60" font-size="7.8" text-anchor="end" transform="rotate(-45 415.00 326.60)">1</text>
<line x1="429.40" y1="316.40" x2="429.40" y2="320.20" stroke="#000" stroke-width="1.0"/>
<text x="431.80" y="326.60" font-size="7.8" text-anchor="end" transform="rotate(-45 431.80 326.60)">10</text>
<text x="387.80" y="355.40" font-size="10.3" text-anchor="middle" textLength="55.50" lengthAdjust="spacingAndGlyphs">ABT-199 [µM]</text>
<polyline points="345.90,316.40 362.30,281.90 379.20,232.20 396.00,220.20 412.60,218.50 429.40,217.40" fill="none" stroke="#787878" stroke-width="1.3" stroke-dasharray="3.2,1.8"/>
<line x1="379.20" y1="225.90" x2="379.20" y2="238.50" stroke="#787878" stroke-width="1.0"/>
<line x1="376.30" y1="225.90" x2="382.10" y2="225.90" stroke="#787878" stroke-width="1.0"/>
<line x1="376.30" y1="238.50" x2="382.10" y2="238.50" stroke="#787878" stroke-width="1.0"/>
<line x1="343.98" y1="313.88" x2="347.82" y2="318.92" stroke="#787878" stroke-width="1.2"/>
<line x1="343.98" y1="318.92" x2="347.82" y2="313.88" stroke="#787878" stroke-width="1.2"/>
<line x1="360.38" y1="279.38" x2="364.22" y2="284.42" stroke="#787878" stroke-width="1.2"/>
<line x1="360.38" y1="284.42" x2="364.22" y2="279.38" stroke="#787878" stroke-width="1.2"/>
<line x1="377.28" y1="229.68" x2="381.12" y2="234.72" stroke="#787878" stroke-width="1.2"/>
<line x1="377.28" y1="234.72" x2="381.12" y2="229.68" stroke="#787878" stroke-width="1.2"/>
<line x1="394.08" y1="217.68" x2="397.92" y2="222.72" stroke="#787878" stroke-width="1.2"/>
<line x1="394.08" y1="222.72" x2="397.92" y2="217.68" stroke="#787878" stroke-width="1.2"/>
<line x1="410.68" y1="215.98" x2="414.52" y2="221.02" stroke="#787878" stroke-width="1.2"/>
<line x1="410.68" y1="221.02" x2="414.52" y2="215.98" stroke="#787878" stroke-width="1.2"/>
<line x1="427.48" y1="214.88" x2="431.32" y2="219.92" stroke="#787878" stroke-width="1.2"/>
<line x1="427.48" y1="219.92" x2="431.32" y2="214.88" stroke="#787878" stroke-width="1.2"/>
<polyline points="345.90,316.40 362.30,315.40 379.20,313.70 396.00,306.70 412.60,301.40 429.40,285.70" fill="none" stroke="#000" stroke-width="1.6"/>
<line x1="379.20" y1="311.10" x2="379.20" y2="316.30" stroke="#000" stroke-width="1.3"/>
<line x1="376.30" y1="311.10" x2="382.10" y2="311.10" stroke="#000" stroke-width="1.3"/>
<line x1="376.30" y1="316.30" x2="382.10" y2="316.30" stroke="#000" stroke-width="1.3"/>
<line x1="396.00" y1="301.90" x2="396.00" y2="311.50" stroke="#000" stroke-width="1.3"/>
<line x1="393.10" y1="301.90" x2="398.90" y2="301.90" stroke="#000" stroke-width="1.3"/>
<line x1="393.10" y1="311.50" x2="398.90" y2="311.50" stroke="#000" stroke-width="1.3"/>
<line x1="412.60" y1="295.10" x2="412.60" y2="307.70" stroke="#000" stroke-width="1.3"/>
<line x1="409.70" y1="295.10" x2="415.50" y2="295.10" stroke="#000" stroke-width="1.3"/>
<line x1="409.70" y1="307.70" x2="415.50" y2="307.70" stroke="#000" stroke-width="1.3"/>
<line x1="429.40" y1="281.10" x2="429.40" y2="290.30" stroke="#000" stroke-width="1.3"/>
<line x1="426.50" y1="281.10" x2="432.30" y2="281.10" stroke="#000" stroke-width="1.3"/>
<line x1="426.50" y1="290.30" x2="432.30" y2="290.30" stroke="#000" stroke-width="1.3"/>
<rect x="343.30" y="313.80" width="5.20" height="5.20" fill="#fff" stroke="#000" stroke-width="1.3"/>
<rect x="359.70" y="312.80" width="5.20" height="5.20" fill="#fff" stroke="#000" stroke-width="1.3"/>
<rect x="376.60" y="311.10" width="5.20" height="5.20" fill="#fff" stroke="#000" stroke-width="1.3"/>
<rect x="393.40" y="304.10" width="5.20" height="5.20" fill="#fff" stroke="#000" stroke-width="1.3"/>
<rect x="410.00" y="298.80" width="5.20" height="5.20" fill="#fff" stroke="#000" stroke-width="1.3"/>
<rect x="426.80" y="283.10" width="5.20" height="5.20" fill="#fff" stroke="#000" stroke-width="1.3"/>
<polyline points="345.90,316.40 362.30,313.70 379.20,309.00 396.00,288.70 412.60,264.40 429.40,245.30" fill="none" stroke="#000" stroke-width="1.7"/>
<line x1="379.20" y1="304.60" x2="379.20" y2="313.40" stroke="#000" stroke-width="1.3"/>
<line x1="376.30" y1="304.60" x2="382.10" y2="304.60" stroke="#000" stroke-width="1.3"/>
<line x1="376.30" y1="313.40" x2="382.10" y2="313.40" stroke="#000" stroke-width="1.3"/>
<line x1="396.00" y1="277.90" x2="396.00" y2="299.50" stroke="#000" stroke-width="1.3"/>
<line x1="393.10" y1="277.90" x2="398.90" y2="277.90" stroke="#000" stroke-width="1.3"/>
<line x1="393.10" y1="299.50" x2="398.90" y2="299.50" stroke="#000" stroke-width="1.3"/>
<line x1="412.60" y1="250.90" x2="412.60" y2="277.90" stroke="#000" stroke-width="1.3"/>
<line x1="409.70" y1="250.90" x2="415.50" y2="250.90" stroke="#000" stroke-width="1.3"/>
<line x1="409.70" y1="277.90" x2="415.50" y2="277.90" stroke="#000" stroke-width="1.3"/>
<line x1="429.40" y1="231.30" x2="429.40" y2="259.30" stroke="#000" stroke-width="1.3"/>
<line x1="426.50" y1="231.30" x2="432.30" y2="231.30" stroke="#000" stroke-width="1.3"/>
<line x1="426.50" y1="259.30" x2="432.30" y2="259.30" stroke="#000" stroke-width="1.3"/>
<circle cx="345.90" cy="316.40" r="2.9" fill="#000" stroke="none" stroke-width="1"/>
<circle cx="362.30" cy="313.70" r="2.9" fill="#000" stroke="none" stroke-width="1"/>
<circle cx="379.20" cy="309.00" r="2.9" fill="#000" stroke="none" stroke-width="1"/>
<circle cx="396.00" cy="288.70" r="2.9" fill="#000" stroke="none" stroke-width="1"/>
<circle cx="412.60" cy="264.40" r="2.9" fill="#000" stroke="none" stroke-width="1"/>
<circle cx="429.40" cy="245.30" r="2.9" fill="#000" stroke="none" stroke-width="1"/>
<rect x="343.00" y="313.50" width="5.80" height="5.80" fill="#000" stroke="none" stroke-width="1"/>
<text x="456.20" y="225.10" font-size="7.7" textLength="25.00" lengthAdjust="spacingAndGlyphs" style="stroke-width:0.08px">Control</text>
<text x="456.20" y="236.60" font-size="7.7" textLength="23.60" lengthAdjust="spacingAndGlyphs" style="stroke-width:0.08px">CD40L</text>
<text x="456.20" y="248.20" font-size="7.7" textLength="57.50" lengthAdjust="spacingAndGlyphs" style="stroke-width:0.08px">CD40L + CC115</text>
<line x1="441.90" y1="222.30" x2="453.10" y2="222.30" stroke="#787878" stroke-width="1.1" stroke-dasharray="2.6,1.6"/>
<line x1="445.74" y1="219.99" x2="449.26" y2="224.61" stroke="#787878" stroke-width="1.2"/>
<line x1="445.74" y1="224.61" x2="449.26" y2="219.99" stroke="#787878" stroke-width="1.2"/>
<line x1="441.90" y1="233.80" x2="453.10" y2="233.80" stroke="#000" stroke-width="1.5"/>
<rect x="444.90" y="231.20" width="5.20" height="5.20" fill="#fff" stroke="#000" stroke-width="1.3"/>
<line x1="444.90" y1="233.80" x2="450.10" y2="233.80" stroke="#000" stroke-width="1.3"/>
<line x1="441.90" y1="245.40" x2="453.10" y2="245.40" stroke="#000" stroke-width="1.5"/>
<circle cx="447.50" cy="245.40" r="2.8" fill="#000" stroke="none" stroke-width="1"/>
</g>
<g id="panelE">
<text x="38.60" y="408.20" font-size="8.8" textLength="15.30" lengthAdjust="spacingAndGlyphs">3T3</text>
<text x="65.50" y="408.20" font-size="8.8" textLength="28.50" lengthAdjust="spacingAndGlyphs">CD40L</text>
<line x1="64.40" y1="414.10" x2="106.70" y2="414.10" stroke="#222" stroke-width="1.1"/>
<text x="86.20" y="426.10" font-size="7.0" textLength="23.80" lengthAdjust="spacingAndGlyphs" style="stroke-width:0.08px">CC-115</text>
<text x="121.00" y="408.20" font-size="8.8" textLength="15.50" lengthAdjust="spacingAndGlyphs">3T3</text>
<text x="151.80" y="408.20" font-size="8.8" textLength="28.90" lengthAdjust="spacingAndGlyphs">CD40L</text>
<line x1="150.40" y1="414.30" x2="193.60" y2="414.30" stroke="#222" stroke-width="1.1"/>
<text x="172.00" y="426.20" font-size="7.0" textLength="23.00" lengthAdjust="spacingAndGlyphs" style="stroke-width:0.08px">CC-115</text>
<clipPath id="c5"><rect x="29.80" y="429.80" width="81.00" height="35.40"/></clipPath>
<rect x="29.80" y="429.80" width="81.00" height="35.40" fill="#ececec" stroke="none" stroke-width="1"/>
<g clip-path="url(#c5)">
<rect x="31.00" y="432.00" width="25.00" height="31.00" rx="12.50" fill="#e0e0e0" filter="url(#b12)"/>
<rect x="60.50" y="432.00" width="20.50" height="31.00" rx="10.25" fill="#e4e4e4" filter="url(#b12)"/>
<rect x="85.00" y="432.00" width="24.00" height="31.00" rx="12.00" fill="#dedede" filter="url(#b12)"/>
<rect x="31.50" y="433.07" width="24.30" height="4.16" rx="2.08" fill="#323232" filter="url(#b8)"/>
<rect x="61.30" y="433.96" width="19.10" height="2.87" rx="1.44" fill="#838383" filter="url(#b8)"/>
<rect x="85.20" y="432.98" width="23.20" height="4.33" rx="2.17" fill="#333333" filter="url(#b8)"/>
<rect x="33.00" y="439.85" width="21.00" height="2.50" rx="1.25" fill="#a6a6a6" filter="url(#b5)"/>
<rect x="87.00" y="439.65" width="20.00" height="2.50" rx="1.25" fill="#a0a0a0" filter="url(#b5)"/>
<rect x="63.00" y="440.39" width="12.00" height="5.71" rx="2.86" fill="#b7b7b7" filter="url(#b8)"/>
<rect x="66.00" y="441.22" width="4.00" height="3.56" rx="1.78" fill="#8c8c8c" filter="url(#b8)"/>
<rect x="30.60" y="450.19" width="25.80" height="4.42" rx="2.21" fill="#2a2a2a" filter="url(#b8)"/>
<rect x="60.50" y="450.87" width="19.90" height="2.96" rx="1.48" fill="#2b2b2b" filter="url(#b8)"/>
<rect x="84.30" y="449.57" width="25.10" height="5.45" rx="2.73" fill="#2d2d2d" filter="url(#b8)"/>
<rect x="32.00" y="458.65" width="21.50" height="2.60" rx="1.30" fill="#696969" filter="url(#b8)"/>
<rect x="61.30" y="458.65" width="17.30" height="2.30" rx="1.15" fill="#999999" filter="url(#b8)"/>
<rect x="85.60" y="458.56" width="23.40" height="2.79" rx="1.39" fill="#3c3c3c" filter="url(#b8)"/>
</g>
<rect x="29.80" y="429.80" width="81.00" height="35.40" fill="none" stroke="#111" stroke-width="1.5"/>
<clipPath id="c6"><rect x="115.60" y="429.50" width="81.70" height="35.70"/></clipPath>
<rect x="115.60" y="429.50" width="81.70" height="35.70" fill="#ececec" stroke="none" stroke-width="1"/>
<g clip-path="url(#c6)">
<rect x="117.00" y="431.00" width="25.00" height="32.00" rx="12.50" fill="#e0e0e0" filter="url(#b12)"/>
<rect x="146.50" y="431.00" width="20.50" height="32.00" rx="10.25" fill="#e4e4e4" filter="url(#b12)"/>
<rect x="172.00" y="431.00" width="22.50" height="32.00" rx="11.25" fill="#dedede" filter="url(#b12)"/>
<rect x="117.40" y="431.82" width="24.20" height="4.76" rx="2.38" fill="#323232" filter="url(#b8)"/>
<rect x="147.20" y="432.60" width="19.00" height="3.30" rx="1.65" fill="#747474" filter="url(#b8)"/>
<rect x="172.80" y="431.82" width="20.10" height="4.76" rx="2.38" fill="#323232" filter="url(#b8)"/>
<rect x="119.00" y="438.65" width="21.00" height="2.50" rx="1.25" fill="#ababab" filter="url(#b5)"/>
<rect x="174.00" y="438.65" width="18.00" height="2.50" rx="1.25" fill="#a8a8a8" filter="url(#b5)"/>
<rect x="117.40" y="449.51" width="25.00" height="4.68" rx="2.34" fill="#2b2b2b" filter="url(#b8)"/>
<rect x="146.30" y="449.98" width="20.70" height="4.25" rx="2.12" fill="#333333" filter="url(#b8)"/>
<rect x="171.00" y="449.32" width="24.20" height="4.85" rx="2.43" fill="#2c2c2c" filter="url(#b8)"/>
<rect x="118.70" y="458.86" width="19.90" height="2.79" rx="1.39" fill="#888888" filter="url(#b8)"/>
<rect x="146.30" y="458.65" width="17.40" height="2.30" rx="1.15" fill="#8e8e8e" filter="url(#b8)"/>
<rect x="172.30" y="458.55" width="18.20" height="2.30" rx="1.15" fill="#8e8e8e" filter="url(#b8)"/>
</g>
<rect x="115.60" y="429.50" width="81.70" height="35.70" fill="none" stroke="#111" stroke-width="1.5"/>
<clipPath id="c7"><rect x="29.80" y="470.20" width="81.00" height="15.80"/></clipPath>
<rect x="29.80" y="470.20" width="81.00" height="15.80" fill="#f3f3f3" stroke="none" stroke-width="1"/>
<g clip-path="url(#c7)">
<ellipse cx="43.65" cy="481.00" rx="12.65" ry="2.55" fill="#111111" filter="url(#b5)"/>
<ellipse cx="70.45" cy="480.60" rx="10.95" ry="1.69" fill="#1d1d1d" filter="url(#b5)"/>
<ellipse cx="96.35" cy="480.80" rx="12.65" ry="2.38" fill="#101010" filter="url(#b5)"/>
<rect x="33.00" y="471.79" width="15.00" height="4.42" rx="2.21" fill="#e6e6e6" filter="url(#b8)"/>
</g>
<rect x="29.80" y="470.20" width="81.00" height="15.80" fill="none" stroke="#111" stroke-width="1.5"/>
<clipPath id="c8"><rect x="115.60" y="470.20" width="81.70" height="15.80"/></clipPath>
<rect x="115.60" y="470.20" width="81.70" height="15.80" fill="#f3f3f3" stroke="none" stroke-width="1"/>
<g clip-path="url(#c8)">
<ellipse cx="132.50" cy="480.90" rx="14.00" ry="2.30" fill="#101010" filter="url(#b5)"/>
<ellipse cx="159.60" cy="480.80" rx="11.10" ry="1.87" fill="#1a1a1a" filter="url(#b5)"/>
<ellipse cx="185.35" cy="480.60" rx="11.35" ry="2.21" fill="#101010" filter="url(#b5)"/>
</g>
<rect x="115.60" y="470.20" width="81.70" height="15.80" fill="none" stroke="#111" stroke-width="1.5"/>
<line x1="32.30" y1="490.00" x2="111.00" y2="490.00" stroke="#1a1a1a" stroke-width="1.5"/>
<line x1="124.80" y1="490.00" x2="198.00" y2="490.00" stroke="#1a1a1a" stroke-width="1.5"/>
<text x="49.20" y="502.60" font-size="9" textLength="33.60" lengthAdjust="spacingAndGlyphs">CLL #75</text>
<text x="144.00" y="503.00" font-size="9" textLength="35.20" lengthAdjust="spacingAndGlyphs">CLL #74</text>
<text x="203.70" y="451.60" font-size="8.8" textLength="14.50" lengthAdjust="spacingAndGlyphs">Bim</text>
<text x="203.70" y="482.40" font-size="8.8" textLength="18.80" lengthAdjust="spacingAndGlyphs">Actin</text>
</g>
<g id="panelF">
<text x="309.50" y="395.20" font-size="8.8" textLength="16.00" lengthAdjust="spacingAndGlyphs">3T3</text>
<text x="349.50" y="395.20" font-size="8.8" textLength="28.00" lengthAdjust="spacingAndGlyphs">CD40L</text>
<line x1="347.00" y1="398.40" x2="475.00" y2="398.40" stroke="#222" stroke-width="1.1"/>
<text x="365.50" y="408.10" font-size="6.9" textLength="22.50" lengthAdjust="spacingAndGlyphs" style="stroke-width:0.08px">CC-115</text>
<text x="392.00" y="408.10" font-size="6.9" textLength="22.50" lengthAdjust="spacingAndGlyphs" style="stroke-width:0.08px">CC-214</text>
<text x="417.30" y="408.10" font-size="6.9" textLength="22.40" lengthAdjust="spacingAndGlyphs" style="stroke-width:0.08px">CC-292</text>
<text x="445.00" y="408.10" font-size="6.9" textLength="25.40" lengthAdjust="spacingAndGlyphs" style="stroke-width:0.08px">Idelalisib</text>
<clipPath id="c9"><rect x="306.40" y="413.60" width="164.40" height="18.70"/></clipPath>
<rect x="306.40" y="413.60" width="164.40" height="18.70" fill="#f6f6f6" stroke="none" stroke-width="1"/>
<g clip-path="url(#c9)">
<rect x="311.00" y="415.65" width="21.00" height="2.30" rx="1.15" fill="#aeaeae" filter="url(#b5)"/>
<rect x="338.00" y="415.65" width="21.00" height="2.30" rx="1.15" fill="#a3a3a3" filter="url(#b5)"/>
<rect x="365.00" y="415.95" width="19.00" height="1.90" rx="0.95" fill="#ddd" filter="url(#b5)"/>
<rect x="393.00" y="415.65" width="18.00" height="1.90" rx="0.95" fill="#ddd" filter="url(#b5)"/>
<rect x="419.00" y="415.25" width="18.00" height="1.90" rx="0.95" fill="#ddd" filter="url(#b5)"/>
<rect x="312.00" y="421.62" width="19.00" height="3.56" rx="1.78" fill="#797979" filter="url(#b5)"/>
<rect x="339.00" y="421.76" width="19.80" height="4.08" rx="2.04" fill="#212121" filter="url(#b5)"/>
<rect x="365.80" y="421.78" width="18.20" height="3.04" rx="1.52" fill="#787878" filter="url(#b5)"/>
<rect x="392.00" y="420.89" width="19.00" height="3.22" rx="1.61" fill="#3e3e3e" filter="url(#b5)"/>
<rect x="417.90" y="420.33" width="19.90" height="3.65" rx="1.82" fill="#2c2c2c" filter="url(#b5)"/>
<rect x="444.70" y="419.86" width="19.90" height="2.79" rx="1.39" fill="#686868" filter="url(#b5)"/>
<rect x="313.00" y="428.45" width="18.00" height="2.10" rx="1.05" fill="#dadada" filter="url(#b5)"/>
<rect x="341.00" y="428.45" width="16.00" height="2.10" rx="1.05" fill="#d4d4d4" filter="url(#b5)"/>
<rect x="367.00" y="428.45" width="16.00" height="1.90" rx="0.95" fill="#e0e0e0" filter="url(#b5)"/>
<rect x="394.00" y="427.25" width="16.00" height="1.90" rx="0.95" fill="#e0e0e0" filter="url(#b5)"/>
<rect x="420.00" y="427.25" width="16.00" height="1.90" rx="0.95" fill="#e0e0e0" filter="url(#b5)"/>
</g>
<rect x="306.40" y="413.60" width="164.40" height="18.70" fill="none" stroke="#111" stroke-width="1.7"/>
<clipPath id="c10"><rect x="306.40" y="436.10" width="164.40" height="19.30"/></clipPath>
<rect x="306.40" y="436.10" width="164.40" height="19.30" fill="#f2f2f2" stroke="none" stroke-width="1"/>
<g clip-path="url(#c10)">
<ellipse cx="306.55" cy="452.50" rx="3.05" ry="4.00" fill="#000" filter="url(#b3)"/>
<rect x="311.00" y="443.35" width="21.00" height="3.90" rx="1.95" fill="#b0b0b0" filter="url(#b8)"/>
<rect x="338.60" y="442.40" width="19.80" height="9.80" rx="2.20" fill="#1c1c1c" filter="url(#b8)"/>
<rect x="363.60" y="443.30" width="22.40" height="8.20" rx="2.20" fill="#858585" filter="url(#b8)"/>
<rect x="365.00" y="444.05" width="20.00" height="2.30" rx="1.15" fill="#343434" filter="url(#b8)"/>
<rect x="365.00" y="448.25" width="20.00" height="2.30" rx="1.15" fill="#343434" filter="url(#b8)"/>
<rect x="390.60" y="443.30" width="20.80" height="7.50" rx="2.20" fill="#3a3a3a" filter="url(#b8)"/>
<rect x="415.60" y="441.60" width="23.40" height="9.10" rx="2.20" fill="#1c1c1c" filter="url(#b8)"/>
<rect x="443.40" y="442.00" width="23.20" height="8.70" rx="2.20" fill="#1c1c1c" filter="url(#b8)"/>
<rect x="340.00" y="446.40" width="17.00" height="1.20" rx="0.60" fill="#484848" filter="url(#b3)"/>
<rect x="392.00" y="446.20" width="18.00" height="1.10" rx="0.55" fill="#585858" filter="url(#b3)"/>
<rect x="417.00" y="445.40" width="20.70" height="1.10" rx="0.55" fill="#4c4c4c" filter="url(#b3)"/>
<rect x="445.00" y="445.60" width="20.30" height="1.10" rx="0.55" fill="#4c4c4c" filter="url(#b3)"/>
</g>
<rect x="306.40" y="436.10" width="164.40" height="19.30" fill="none" stroke="#111" stroke-width="1.7"/>
<clipPath id="c11"><rect x="306.40" y="460.10" width="164.40" height="19.90"/></clipPath>
<rect x="306.40" y="460.10" width="164.40" height="19.90" fill="#f5f5f5" stroke="none" stroke-width="1"/>
<g clip-path="url(#c11)">
<rect x="310.40" y="466.95" width="21.60" height="2.70" rx="1.35" fill="#757575" filter="url(#b5)"/>
<rect x="339.80" y="467.98" width="18.20" height="3.04" rx="1.52" fill="#313131" filter="url(#b5)"/>
<rect x="366.60" y="470.05" width="18.20" height="2.50" rx="1.25" fill="#676767" filter="url(#b5)"/>
<rect x="392.00" y="469.86" width="19.00" height="2.87" rx="1.44" fill="#393939" filter="url(#b5)"/>
<rect x="417.90" y="471.21" width="19.90" height="3.39" rx="1.69" fill="#2a2a2a" filter="url(#b5)"/>
<rect x="445.60" y="470.96" width="19.00" height="2.87" rx="1.44" fill="#656565" filter="url(#b5)"/>
<rect x="312.00" y="474.15" width="19.00" height="2.20" rx="1.10" fill="#dedede" filter="url(#b5)"/>
<rect x="340.00" y="474.65" width="17.00" height="2.20" rx="1.10" fill="#dedede" filter="url(#b5)"/>
<rect x="418.00" y="463.15" width="19.00" height="2.20" rx="1.10" fill="#e2e2e2" filter="url(#b5)"/>
</g>
<rect x="306.40" y="460.10" width="164.40" height="19.90" fill="none" stroke="#111" stroke-width="1.7"/>
<circle cx="328.50" cy="462.60" r="0.7" fill="#555" stroke="none" stroke-width="1"/>
<circle cx="318.00" cy="477.50" r="0.5" fill="#555" stroke="none" stroke-width="1"/>
<circle cx="336.00" cy="466.00" r="0.5" fill="#555" stroke="none" stroke-width="1"/>
<circle cx="371.00" cy="463.50" r="0.8" fill="#555" stroke="none" stroke-width="1"/>
<circle cx="373.00" cy="466.20" r="0.6" fill="#555" stroke="none" stroke-width="1"/>
<circle cx="368.00" cy="474.50" r="0.6" fill="#555" stroke="none" stroke-width="1"/>
<circle cx="389.50" cy="470.50" r="0.6" fill="#555" stroke="none" stroke-width="1"/>
<circle cx="432.00" cy="467.30" r="0.8" fill="#555" stroke="none" stroke-width="1"/>
<circle cx="352.00" cy="476.50" r="0.5" fill="#555" stroke="none" stroke-width="1"/>
<circle cx="404.00" cy="475.30" r="0.5" fill="#555" stroke="none" stroke-width="1"/>
<circle cx="457.00" cy="468.00" r="0.5" fill="#555" stroke="none" stroke-width="1"/>
<circle cx="345.00" cy="463.00" r="0.4" fill="#555" stroke="none" stroke-width="1"/>
<circle cx="380.00" cy="476.80" r="0.5" fill="#555" stroke="none" stroke-width="1"/>
<clipPath id="c12"><rect x="306.40" y="485.40" width="164.40" height="19.60"/></clipPath>
<rect x="306.40" y="485.40" width="164.40" height="19.60" fill="#f4f4f4" stroke="none" stroke-width="1"/>
<g clip-path="url(#c12)">
<rect x="308.70" y="494.00" width="25.90" height="7.00" rx="3.50" fill="#707070" filter="url(#b5)"/>
<rect x="312.00" y="495.29" width="18.00" height="4.42" rx="2.21" fill="#3e3e3e" filter="url(#b8)"/>
<rect x="336.30" y="493.80" width="24.30" height="7.50" rx="3.75" fill="#202020" filter="url(#b5)"/>
<rect x="362.30" y="493.80" width="24.20" height="7.50" rx="3.75" fill="#202020" filter="url(#b5)"/>
<rect x="389.30" y="493.80" width="24.90" height="7.50" rx="3.75" fill="#202020" filter="url(#b5)"/>
<rect x="417.00" y="492.00" width="23.20" height="7.50" rx="3.75" fill="#303030" filter="url(#b5)"/>
<rect x="442.60" y="493.83" width="20.10" height="4.94" rx="2.47" fill="#353535" filter="url(#b5)"/>
<rect x="308.00" y="488.00" width="158.00" height="3.00" rx="1.50" fill="#e8e8e8" filter="url(#b12)"/>
</g>
<rect x="306.40" y="485.40" width="164.40" height="19.60" fill="none" stroke="#111" stroke-width="1.7"/>
<text x="474.20" y="426.60" font-size="8.8" textLength="20.60" lengthAdjust="spacingAndGlyphs">Mcl-1</text>
<text x="475.00" y="449.30" font-size="8.8" textLength="20.50" lengthAdjust="spacingAndGlyphs">Bcl-X</text>
<text x="495.70" y="452.00" font-size="5.6">L</text>
<text x="475.00" y="473.70" font-size="8.8" textLength="17.00" lengthAdjust="spacingAndGlyphs">Bfl-1</text>
<text x="475.00" y="497.90" font-size="8.8" textLength="19.60" lengthAdjust="spacingAndGlyphs">Actin</text>
</g>
<g id="panelG">
<line x1="52.30" y1="538.70" x2="52.30" y2="634.50" stroke="#000" stroke-width="1.3"/>
<line x1="51.70" y1="633.90" x2="143.70" y2="633.90" stroke="#000" stroke-width="1.3"/>
<line x1="48.80" y1="633.90" x2="52.30" y2="633.90" stroke="#000" stroke-width="1.0"/>
<text x="45.90" y="636.80" font-size="8.3" text-anchor="end">0.0</text>
<line x1="48.80" y1="603.20" x2="52.30" y2="603.20" stroke="#000" stroke-width="1.0"/>
<text x="45.90" y="606.10" font-size="8.3" text-anchor="end">0.5</text>
<line x1="48.80" y1="572.50" x2="52.30" y2="572.50" stroke="#000" stroke-width="1.0"/>
<text x="45.90" y="575.40" font-size="8.3" text-anchor="end">1.0</text>
<line x1="48.80" y1="541.80" x2="52.30" y2="541.80" stroke="#000" stroke-width="1.0"/>
<text x="45.90" y="544.70" font-size="8.3" text-anchor="end">1.5</text>
<rect x="54.80" y="601.20" width="10.10" height="33.00" fill="#000" stroke="none" stroke-width="1"/>
<line x1="59.85" y1="594.90" x2="59.85" y2="601.70" stroke="#000" stroke-width="1.1"/>
<line x1="57.35" y1="594.90" x2="62.35" y2="594.90" stroke="#000" stroke-width="1.2"/>
<line x1="59.85" y1="633.90" x2="59.85" y2="637.60" stroke="#000" stroke-width="1.0"/>
<text x="62.25" y="646.00" font-size="7.8" text-anchor="end" transform="rotate(-45 62.25 646.00)">3T3</text>
<rect x="70.12" y="572.70" width="10.10" height="61.50" fill="#000" stroke="none" stroke-width="1"/>
<line x1="75.17" y1="633.90" x2="75.17" y2="637.60" stroke="#000" stroke-width="1.0"/>
<text x="77.57" y="646.00" font-size="7.8" text-anchor="end" transform="rotate(-45 77.57 646.00)">Medium</text>
<rect x="85.44" y="589.60" width="10.10" height="44.60" fill="#000" stroke="none" stroke-width="1"/>
<line x1="90.49" y1="582.20" x2="90.49" y2="590.10" stroke="#000" stroke-width="1.1"/>
<line x1="87.99" y1="582.20" x2="92.99" y2="582.20" stroke="#000" stroke-width="1.2"/>
<line x1="90.49" y1="633.90" x2="90.49" y2="637.60" stroke="#000" stroke-width="1.0"/>
<text x="92.89" y="646.00" font-size="7.8" text-anchor="end" transform="rotate(-45 92.89 646.00)">CC-115</text>
<rect x="100.76" y="579.80" width="10.10" height="54.40" fill="#000" stroke="none" stroke-width="1"/>
<line x1="105.81" y1="573.70" x2="105.81" y2="580.30" stroke="#000" stroke-width="1.1"/>
<line x1="103.31" y1="573.70" x2="108.31" y2="573.70" stroke="#000" stroke-width="1.2"/>
<line x1="105.81" y1="633.90" x2="105.81" y2="637.60" stroke="#000" stroke-width="1.0"/>
<text x="108.21" y="646.00" font-size="7.8" text-anchor="end" transform="rotate(-45 108.21 646.00)">CC-214</text>
<rect x="116.08" y="578.80" width="10.10" height="55.40" fill="#000" stroke="none" stroke-width="1"/>
<line x1="121.13" y1="561.90" x2="121.13" y2="579.30" stroke="#000" stroke-width="1.1"/>
<line x1="118.63" y1="561.90" x2="123.63" y2="561.90" stroke="#000" stroke-width="1.2"/>
<line x1="121.13" y1="633.90" x2="121.13" y2="637.60" stroke="#000" stroke-width="1.0"/>
<text x="123.53" y="646.00" font-size="7.8" text-anchor="end" transform="rotate(-45 123.53 646.00)">CC-292</text>
<rect x="131.40" y="568.80" width="10.10" height="65.40" fill="#000" stroke="none" stroke-width="1"/>
<line x1="136.45" y1="558.70" x2="136.45" y2="569.30" stroke="#000" stroke-width="1.1"/>
<line x1="133.95" y1="558.70" x2="138.95" y2="558.70" stroke="#000" stroke-width="1.2"/>
<line x1="136.45" y1="633.90" x2="136.45" y2="637.60" stroke="#000" stroke-width="1.0"/>
<text x="138.85" y="646.00" font-size="7.8" text-anchor="end" transform="rotate(-45 138.85 646.00)">Idelalisib</text>
<text x="27.50" y="586.50" font-size="10.6" text-anchor="middle" textLength="52.00" lengthAdjust="spacingAndGlyphs" transform="rotate(-90 27.50 586.50)">Mcl-1/β-actin</text>
<line x1="73.00" y1="569.40" x2="90.00" y2="569.40" stroke="#000" stroke-width="1.1"/>
<circle cx="81.30" cy="563.90" r="1.15" fill="#000" stroke="none" stroke-width="1"/>
<line x1="81.30" y1="562.20" x2="81.30" y2="565.60" stroke="#000" stroke-width="0.5"/>
<line x1="82.77" y1="564.75" x2="79.83" y2="563.05" stroke="#000" stroke-width="0.5"/>
<line x1="79.83" y1="564.75" x2="82.77" y2="563.05" stroke="#000" stroke-width="0.5"/>
<line x1="63.75" y1="672.50" x2="145.50" y2="672.50" stroke="#000" stroke-width="1.1"/>
<text x="104.60" y="688.60" font-size="10.8" text-anchor="middle" textLength="26.50" lengthAdjust="spacingAndGlyphs">CD40L</text>
</g>
<g id="panelH">
<line x1="210.60" y1="538.70" x2="210.60" y2="634.50" stroke="#000" stroke-width="1.3"/>
<line x1="210.00" y1="633.90" x2="302.00" y2="633.90" stroke="#000" stroke-width="1.3"/>
<line x1="207.10" y1="633.90" x2="210.60" y2="633.90" stroke="#000" stroke-width="1.0"/>
<text x="204.20" y="636.80" font-size="8.3" text-anchor="end">0.0</text>
<line x1="207.10" y1="603.20" x2="210.60" y2="603.20" stroke="#000" stroke-width="1.0"/>
<text x="204.20" y="606.10" font-size="8.3" text-anchor="end">0.5</text>
<line x1="207.10" y1="572.50" x2="210.60" y2="572.50" stroke="#000" stroke-width="1.0"/>
<text x="204.20" y="575.40" font-size="8.3" text-anchor="end">1.0</text>
<line x1="207.10" y1="541.80" x2="210.60" y2="541.80" stroke="#000" stroke-width="1.0"/>
<text x="204.20" y="544.70" font-size="8.3" text-anchor="end">1.5</text>
<rect x="213.10" y="623.00" width="10.10" height="11.20" fill="#000" stroke="none" stroke-width="1"/>
<line x1="218.15" y1="620.50" x2="218.15" y2="623.50" stroke="#000" stroke-width="1.1"/>
<line x1="215.65" y1="620.50" x2="220.65" y2="620.50" stroke="#000" stroke-width="1.2"/>
<line x1="218.15" y1="633.90" x2="218.15" y2="637.60" stroke="#000" stroke-width="1.0"/>
<text x="220.55" y="646.00" font-size="7.8" text-anchor="end" transform="rotate(-45 220.55 646.00)">3T3</text>
<rect x="228.42" y="572.70" width="10.10" height="61.50" fill="#000" stroke="none" stroke-width="1"/>
<line x1="233.47" y1="633.90" x2="233.47" y2="637.60" stroke="#000" stroke-width="1.0"/>
<text x="235.87" y="646.00" font-size="7.8" text-anchor="end" transform="rotate(-45 235.87 646.00)">Medium</text>
<rect x="243.74" y="591.90" width="10.10" height="42.30" fill="#000" stroke="none" stroke-width="1"/>
<line x1="248.79" y1="587.60" x2="248.79" y2="592.40" stroke="#000" stroke-width="1.1"/>
<line x1="246.29" y1="587.60" x2="251.29" y2="587.60" stroke="#000" stroke-width="1.2"/>
<line x1="248.79" y1="633.90" x2="248.79" y2="637.60" stroke="#000" stroke-width="1.0"/>
<text x="251.19" y="646.00" font-size="7.8" text-anchor="end" transform="rotate(-45 251.19 646.00)">CC-115</text>
<rect x="259.06" y="577.20" width="10.10" height="57.00" fill="#000" stroke="none" stroke-width="1"/>
<line x1="264.11" y1="569.30" x2="264.11" y2="577.70" stroke="#000" stroke-width="1.1"/>
<line x1="261.61" y1="569.30" x2="266.61" y2="569.30" stroke="#000" stroke-width="1.2"/>
<line x1="264.11" y1="633.90" x2="264.11" y2="637.60" stroke="#000" stroke-width="1.0"/>
<text x="266.51" y="646.00" font-size="7.8" text-anchor="end" transform="rotate(-45 266.51 646.00)">CC-214</text>
<rect x="274.38" y="582.50" width="10.10" height="51.70" fill="#000" stroke="none" stroke-width="1"/>
<line x1="279.43" y1="563.00" x2="279.43" y2="583.00" stroke="#000" stroke-width="1.1"/>
<line x1="276.93" y1="563.00" x2="281.93" y2="563.00" stroke="#000" stroke-width="1.2"/>
<line x1="279.43" y1="633.90" x2="279.43" y2="637.60" stroke="#000" stroke-width="1.0"/>
<text x="281.83" y="646.00" font-size="7.8" text-anchor="end" transform="rotate(-45 281.83 646.00)">CC-292</text>
<rect x="289.70" y="564.70" width="10.10" height="69.50" fill="#000" stroke="none" stroke-width="1"/>
<line x1="294.75" y1="551.50" x2="294.75" y2="565.20" stroke="#000" stroke-width="1.1"/>
<line x1="292.25" y1="551.50" x2="297.25" y2="551.50" stroke="#000" stroke-width="1.2"/>
<line x1="294.75" y1="633.90" x2="294.75" y2="637.60" stroke="#000" stroke-width="1.0"/>
<text x="297.15" y="646.00" font-size="7.8" text-anchor="end" transform="rotate(-45 297.15 646.00)">Idelalisib</text>
<text x="185.80" y="588.00" font-size="10.6" text-anchor="middle" textLength="57.30" lengthAdjust="spacingAndGlyphs" transform="rotate(-90 185.80 588.00)">Bcl-XL/β-actin</text>
<line x1="231.50" y1="567.10" x2="247.30" y2="567.10" stroke="#000" stroke-width="1.1"/>
<circle cx="239.30" cy="561.60" r="1.15" fill="#000" stroke="none" stroke-width="1"/>
<line x1="239.30" y1="559.90" x2="239.30" y2="563.30" stroke="#000" stroke-width="0.5"/>
<line x1="240.77" y1="562.45" x2="237.83" y2="560.75" stroke="#000" stroke-width="0.5"/>
<line x1="237.83" y1="562.45" x2="240.77" y2="560.75" stroke="#000" stroke-width="0.5"/>
<line x1="222.05" y1="672.50" x2="303.80" y2="672.50" stroke="#000" stroke-width="1.1"/>
<text x="262.90" y="688.60" font-size="10.8" text-anchor="middle" textLength="26.50" lengthAdjust="spacingAndGlyphs">CD40L</text>
</g>
<g id="panelI">
<line x1="368.50" y1="538.70" x2="368.50" y2="634.50" stroke="#000" stroke-width="1.3"/>
<line x1="367.90" y1="633.90" x2="459.90" y2="633.90" stroke="#000" stroke-width="1.3"/>
<line x1="365.00" y1="633.90" x2="368.50" y2="633.90" stroke="#000" stroke-width="1.0"/>
<text x="362.10" y="636.80" font-size="8.3" text-anchor="end">0.0</text>
<line x1="365.00" y1="603.20" x2="368.50" y2="603.20" stroke="#000" stroke-width="1.0"/>
<text x="362.10" y="606.10" font-size="8.3" text-anchor="end">0.5</text>
<line x1="365.00" y1="572.50" x2="368.50" y2="572.50" stroke="#000" stroke-width="1.0"/>
<text x="362.10" y="575.40" font-size="8.3" text-anchor="end">1.0</text>
<line x1="365.00" y1="541.80" x2="368.50" y2="541.80" stroke="#000" stroke-width="1.0"/>
<text x="362.10" y="544.70" font-size="8.3" text-anchor="end">1.5</text>
<rect x="371.00" y="611.00" width="10.10" height="23.20" fill="#000" stroke="none" stroke-width="1"/>
<line x1="376.05" y1="605.80" x2="376.05" y2="611.50" stroke="#000" stroke-width="1.1"/>
<line x1="373.55" y1="605.80" x2="378.55" y2="605.80" stroke="#000" stroke-width="1.2"/>
<line x1="376.05" y1="633.90" x2="376.05" y2="637.60" stroke="#000" stroke-width="1.0"/>
<text x="378.45" y="646.00" font-size="7.8" text-anchor="end" transform="rotate(-45 378.45 646.00)">3T3</text>
<rect x="386.32" y="572.70" width="10.10" height="61.50" fill="#000" stroke="none" stroke-width="1"/>
<line x1="391.37" y1="633.90" x2="391.37" y2="637.60" stroke="#000" stroke-width="1.0"/>
<text x="393.77" y="646.00" font-size="7.8" text-anchor="end" transform="rotate(-45 393.77 646.00)">Medium</text>
<rect x="401.64" y="592.80" width="10.10" height="41.40" fill="#000" stroke="none" stroke-width="1"/>
<line x1="406.69" y1="589.00" x2="406.69" y2="593.30" stroke="#000" stroke-width="1.1"/>
<line x1="404.19" y1="589.00" x2="409.19" y2="589.00" stroke="#000" stroke-width="1.2"/>
<line x1="406.69" y1="633.90" x2="406.69" y2="637.60" stroke="#000" stroke-width="1.0"/>
<text x="409.09" y="646.00" font-size="7.8" text-anchor="end" transform="rotate(-45 409.09 646.00)">CC-115</text>
<rect x="416.96" y="591.10" width="10.10" height="43.10" fill="#000" stroke="none" stroke-width="1"/>
<line x1="422.01" y1="586.10" x2="422.01" y2="591.60" stroke="#000" stroke-width="1.1"/>
<line x1="419.51" y1="586.10" x2="424.51" y2="586.10" stroke="#000" stroke-width="1.2"/>
<line x1="422.01" y1="633.90" x2="422.01" y2="637.60" stroke="#000" stroke-width="1.0"/>
<text x="424.41" y="646.00" font-size="7.8" text-anchor="end" transform="rotate(-45 424.41 646.00)">CC-214</text>
<rect x="432.28" y="570.10" width="10.10" height="64.10" fill="#000" stroke="none" stroke-width="1"/>
<line x1="437.33" y1="562.50" x2="437.33" y2="570.60" stroke="#000" stroke-width="1.1"/>
<line x1="434.83" y1="562.50" x2="439.83" y2="562.50" stroke="#000" stroke-width="1.2"/>
<line x1="437.33" y1="633.90" x2="437.33" y2="637.60" stroke="#000" stroke-width="1.0"/>
<text x="439.73" y="646.00" font-size="7.8" text-anchor="end" transform="rotate(-45 439.73 646.00)">CC-292</text>
<rect x="447.60" y="561.00" width="10.10" height="73.20" fill="#000" stroke="none" stroke-width="1"/>
<line x1="452.65" y1="558.20" x2="452.65" y2="561.50" stroke="#000" stroke-width="1.1"/>
<line x1="450.15" y1="558.20" x2="455.15" y2="558.20" stroke="#000" stroke-width="1.2"/>
<line x1="452.65" y1="633.90" x2="452.65" y2="637.60" stroke="#000" stroke-width="1.0"/>
<text x="455.05" y="646.00" font-size="7.8" text-anchor="end" transform="rotate(-45 455.05 646.00)">Idelalisib</text>
<text x="344.00" y="588.60" font-size="10.6" text-anchor="middle" textLength="50.50" lengthAdjust="spacingAndGlyphs" transform="rotate(-90 344.00 588.60)">Bfl-1/β-actin</text>
<line x1="391.00" y1="557.20" x2="421.50" y2="557.20" stroke="#000" stroke-width="1.1"/>
<circle cx="401.40" cy="551.70" r="1.15" fill="#000" stroke="none" stroke-width="1"/>
<line x1="401.40" y1="550.00" x2="401.40" y2="553.40" stroke="#000" stroke-width="0.5"/>
<line x1="402.87" y1="552.55" x2="399.93" y2="550.85" stroke="#000" stroke-width="0.5"/>
<line x1="399.93" y1="552.55" x2="402.87" y2="550.85" stroke="#000" stroke-width="0.5"/>
<circle cx="405.80" cy="551.70" r="1.15" fill="#000" stroke="none" stroke-width="1"/>
<line x1="405.80" y1="550.00" x2="405.80" y2="553.40" stroke="#000" stroke-width="0.5"/>
<line x1="407.27" y1="552.55" x2="404.33" y2="550.85" stroke="#000" stroke-width="0.5"/>
<line x1="404.33" y1="552.55" x2="407.27" y2="550.85" stroke="#000" stroke-width="0.5"/>
<line x1="391.00" y1="567.60" x2="405.80" y2="567.60" stroke="#000" stroke-width="1.1"/>
<circle cx="395.70" cy="562.10" r="1.15" fill="#000" stroke="none" stroke-width="1"/>
<line x1="395.70" y1="560.40" x2="395.70" y2="563.80" stroke="#000" stroke-width="0.5"/>
<line x1="397.17" y1="562.95" x2="394.23" y2="561.25" stroke="#000" stroke-width="0.5"/>
<line x1="394.23" y1="562.95" x2="397.17" y2="561.25" stroke="#000" stroke-width="0.5"/>
<circle cx="400.10" cy="562.10" r="1.15" fill="#000" stroke="none" stroke-width="1"/>
<line x1="400.10" y1="560.40" x2="400.10" y2="563.80" stroke="#000" stroke-width="0.5"/>
<line x1="401.57" y1="562.95" x2="398.63" y2="561.25" stroke="#000" stroke-width="0.5"/>
<line x1="398.63" y1="562.95" x2="401.57" y2="561.25" stroke="#000" stroke-width="0.5"/>
<line x1="379.95" y1="672.50" x2="461.70" y2="672.50" stroke="#000" stroke-width="1.1"/>
<text x="420.80" y="688.60" font-size="10.8" text-anchor="middle" textLength="26.50" lengthAdjust="spacingAndGlyphs">CD40L</text>
</g>
<rect x="0.5" y="0.5" width="519" height="697" fill="none" stroke="#000" stroke-width="1"/>
</svg></body></html>
